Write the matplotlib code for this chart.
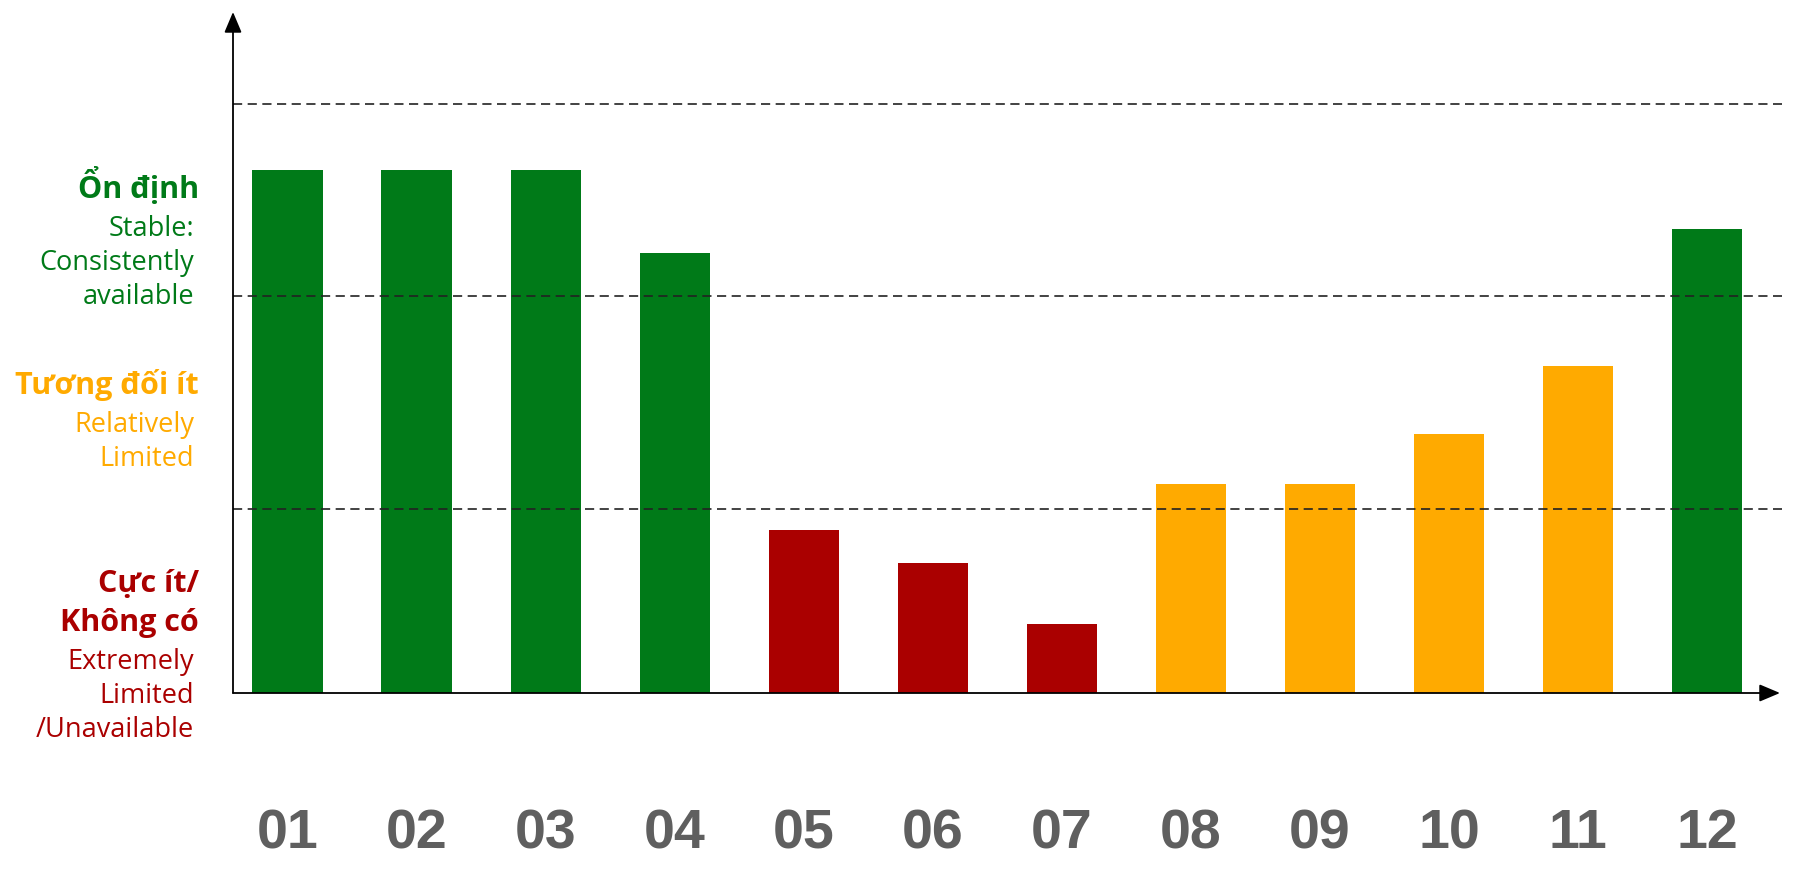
import numpy as np
import matplotlib
matplotlib.use("Agg")
import matplotlib.pyplot as plt

# months and availability level
months = ['01', '02', '03', '04', '05', '06', '07', '08', '09', '10', '11', '12']
levels = [5.23, 5.23, 5.23, 4.40, 1.63, 1.30, 0.69, 2.09, 2.09, 2.59, 3.27, 4.64]
status = ['stable', 'stable', 'stable', 'stable',
          'extreme', 'extreme', 'extreme',
          'limited', 'limited', 'limited', 'limited',
          'stable']
thresholds = [1.84, 3.97, 5.89]

band_keys = ['stable', 'limited', 'extreme']
band_titles = [['Ổn định'], ['Tương đối ít'], ['Cực ít/', 'Không có']]
band_notes = [['Stable:', 'Consistently', 'available'],
              ['Relatively', 'Limited'],
              ['Extremely', 'Limited', '/Unavailable']]

colors = {'stable': '#007a18', 'limited': '#ffaa00', 'extreme': '#aa0000'}

W, H = 1814, 873
fig = plt.figure(figsize=(W / 100, H / 100), dpi=100)
ax = fig.add_axes([233 / W, 1 - 693 / H, (1782 - 233) / W, (693 - 12) / H])

x = np.arange(len(months))
ax.bar(x, levels, width=0.543, color=[colors[s] for s in status], zorder=2)
ax.set_xlim(-0.422, 11.58)
ax.set_ylim(0, 6.81)

for t in thresholds:
    ax.axhline(t, color='#222222', lw=1.2, dashes=(5.5, 3.3), zorder=3)

for sp in ax.spines.values():
    sp.set_visible(False)

arrow = dict(arrowstyle='-|>,head_length=0.9,head_width=0.38', color='black',
             lw=1.3, shrinkA=0, shrinkB=0, mutation_scale=14)
ax.annotate('', xy=(0.9987, 0), xytext=(0, 0), xycoords='axes fraction',
            arrowprops=arrow, zorder=4, annotation_clip=False)
ax.annotate('', xy=(0, 1), xytext=(0, 0), xycoords='axes fraction',
            arrowprops=arrow, zorder=4, annotation_clip=False)

ax.set_yticks([])
ax.set_xticks(x, months)
ax.tick_params(axis='x', length=0, pad=83, labelsize=40, labelcolor='#5f5f5f')
for lab in ax.get_xticklabels():
    lab.set_fontweight('bold')
    lab.set_family(['Liberation Sans', 'DejaVu Sans'])

# left side band labels (pixel baselines)
first_base = [198, 394, 592]
for key, titles, notes, y0 in zip(band_keys, band_titles, band_notes, first_base):
    y = y0
    for i, t in enumerate(titles):
        fig.text(199 / W, 1 - y / H, t, ha='right', va='baseline',
                 color=colors[key], fontsize=22, fontweight='bold',
                 family=['Open Sans', 'DejaVu Sans'])
        if i < len(titles) - 1:
            y += 39
    y += 38
    for t in notes:
        fig.text(194 / W, 1 - y / H, t, ha='right', va='baseline',
                 color=colors[key], fontsize=19.5,
                 family=['Open Sans', 'DejaVu Sans'])
        y += 34

fig.savefig('out.png', dpi=100, facecolor='white')
